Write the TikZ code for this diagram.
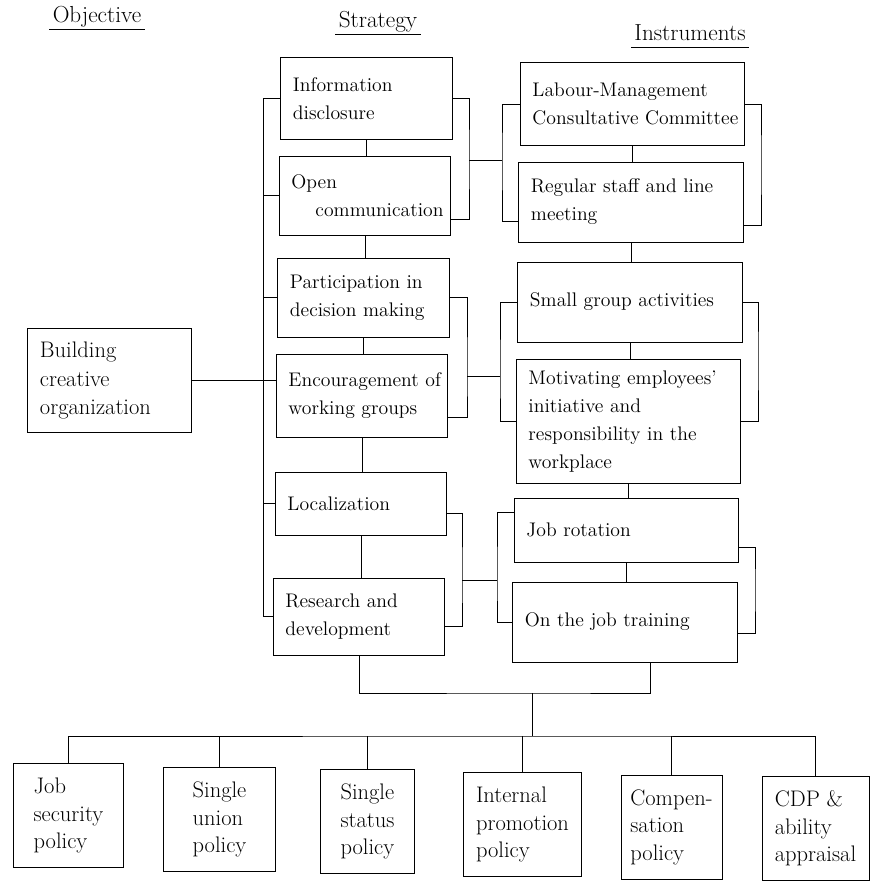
\documentclass[tikz,border=0pt]{standalone}
\usetikzlibrary{calc}

\begin{document}
\begin{tikzpicture}[x=0.025cm, y=-0.025cm, line width=0.7pt,
    font=\fontsize{14}{20}\selectfont,
    head/.style={inner xsep=2pt, inner ysep=2pt, text height=0.75em, text depth=0.3em,
        font=\fontsize{16.5}{20}\selectfont},
    sbox/.style={draw, align=left, inner xsep=0.3cm, text width=3.675cm},
    ibox/.style={draw, align=left, inner xsep=0.3cm, text width=5cm},
    pbox/.style={draw, align=left, inner sep=0pt, minimum width=#1, minimum height=2.6cm,
        font=\fontsize{16}{19.5}\selectfont}]
    \useasboundingbox (0,0) rectangle (872,882);

    % column heads
    \node[head] (objective) at (97,19) {Objective};
    \node[head] (strategy) at (378,24) {Strategy};
    \node[head] (instruments) at (690,37) {Instruments};
    \foreach \h in {objective,strategy,instruments}
        \draw (\h.south west) -- (\h.south east);

    % objective
    \node[draw, align=left, inner xsep=0.3cm, text width=3.475cm, minimum height=2.575cm,
        font=\fontsize{16}{20.5}\selectfont]
        (build) at (109.5,380.5) {Building\\creative\\organization};

    % strategy
    \node[sbox, minimum height=2.025cm] (info)  at (366.5,98.5) {Information\\disclosure};
    \node[sbox, minimum height=1.975cm] (open)  at (365,195.5) {Open\\\mbox{\hspace{0.6cm}communication}};
    \node[sbox, minimum height=1.975cm] (part)  at (363.5,297.5) {\mbox{Participation in}\\\mbox{decision making}};
    \node[sbox, minimum height=2.075cm] (enc)   at (362,395.5) {\mbox{Encouragement of}\\\mbox{working groups}};
    \node[sbox, minimum height=1.575cm] (local) at (361,503.5) {Localization};
    \node[sbox, minimum height=1.925cm] (rd)    at (359,616.5) {Research and\\development};

    % instruments
    \node[ibox, minimum height=2.05cm]  (lmcc)   at (632.5,104) {\mbox{Labour-Management}\\\mbox{Consultative Committee}};
    \node[ibox, minimum height=2cm]     (staff)  at (631,202) {\mbox{Regular staff and line}\\meeting};
    \node[ibox, minimum height=2cm]     (small)  at (630,302) {\mbox{Small group activities}};
    \node[ibox, minimum height=3.075cm] (motiv)  at (628.5,421.5) {\mbox{Motivating employees'}\\initiative and\\\mbox{responsibility in the}\\workplace};
    \node[ibox, minimum height=1.6cm]   (jobrot) at (626.5,530) {Job rotation};
    \node[ibox, minimum height=2cm]     (ojt)    at (625,622) {\mbox{On the job training}};

    % policies
    \node[pbox=2.725cm] (jsp) at (68.5,815.5) {Job\\security\\policy};
    \node[pbox=2.775cm] (sup) at (219.5,819.5) {Single\\union\\policy};
    \node[pbox=2.325cm] (ssp) at (367.5,821.5) {Single\\status\\policy};
    \node[pbox=2.925cm] (ipp) at (522.5,824.5) {Internal\\promotion\\policy};
    \node[pbox=2.525cm] (cpp) at (671.5,827) {Compen-\\sation\\policy};
    \node[pbox=2.675cm] (cdp) at (815.5,828.5) {CDP \&\\ability\\appraisal};

    % bus points
    \coordinate (spine) at (263,383);
    \coordinate (sa) at (469,160);
    \coordinate (ia) at (502,160);
    \coordinate (ra) at (761,165);
    \coordinate (sb) at (467,376);
    \coordinate (ib) at (500,376);
    \coordinate (rb) at (758,360);
    \coordinate (sc) at (462,580);
    \coordinate (ic) at (497,580);
    \coordinate (rc) at (755,590);
    \coordinate (join) at (532,693);
    \coordinate (hub) at (532,736);

    % objective to strategies
    \draw (info.west) -| (spine |- rd.west) -- (rd.west);
    \foreach \n in {open,part,local}
        \draw (\n.west) -- (\n.west -| spine);
    \draw (build.east) -- (spine |- build.east) -- (enc.west |- build.east);

    % stacked boxes
    \foreach \a/\b in {info/open,open/part,part/enc,enc/local,local/rd,
                       lmcc/staff,staff/small,small/motiv,motiv/jobrot,jobrot/ojt}
        \draw (\a.south) -- (\a.south |- \b.north);

    % strategies to instruments
    \draw (info.east) -| (sa) |- ([yshift=0.4cm]open.south east);
    \draw (sa) -- (ia);
    \draw (lmcc.west) -| (ia) |- ([yshift=0.525cm]staff.south west);
    \draw (lmcc.east) -| (ra) |- ([yshift=0.425cm]staff.south east);

    \draw (part.east) -| (sb) |- ([yshift=0.5cm]enc.south east);
    \draw (sb) -- (ib);
    \draw (small.west) -| (ib) |- (motiv.west);
    \draw (small.east) -| (rb) |- (motiv.east);

    \draw ([yshift=-0.25cm]local.east) -| (sc) |- ([yshift=-0.25cm]rd.east);
    \draw (sc) -- (ic);
    \draw ([yshift=-0.375cm]jobrot.north west) -| (ic) |- (ojt.west);
    \draw ([yshift=0.375cm]jobrot.south east) -| (rc) |- ([yshift=-0.275cm]ojt.east);

    % down to policies
    \draw (rd.south) |- (join) -| ([xshift=0.625cm]ojt.south);
    \draw (join) -- (hub);
    \draw (jsp.north) |- (hub) -| (cdp.north);
    \foreach \n in {sup,ssp,ipp,cpp}
        \draw (\n.north) -- (\n.north |- hub);
\end{tikzpicture}
\end{document}
